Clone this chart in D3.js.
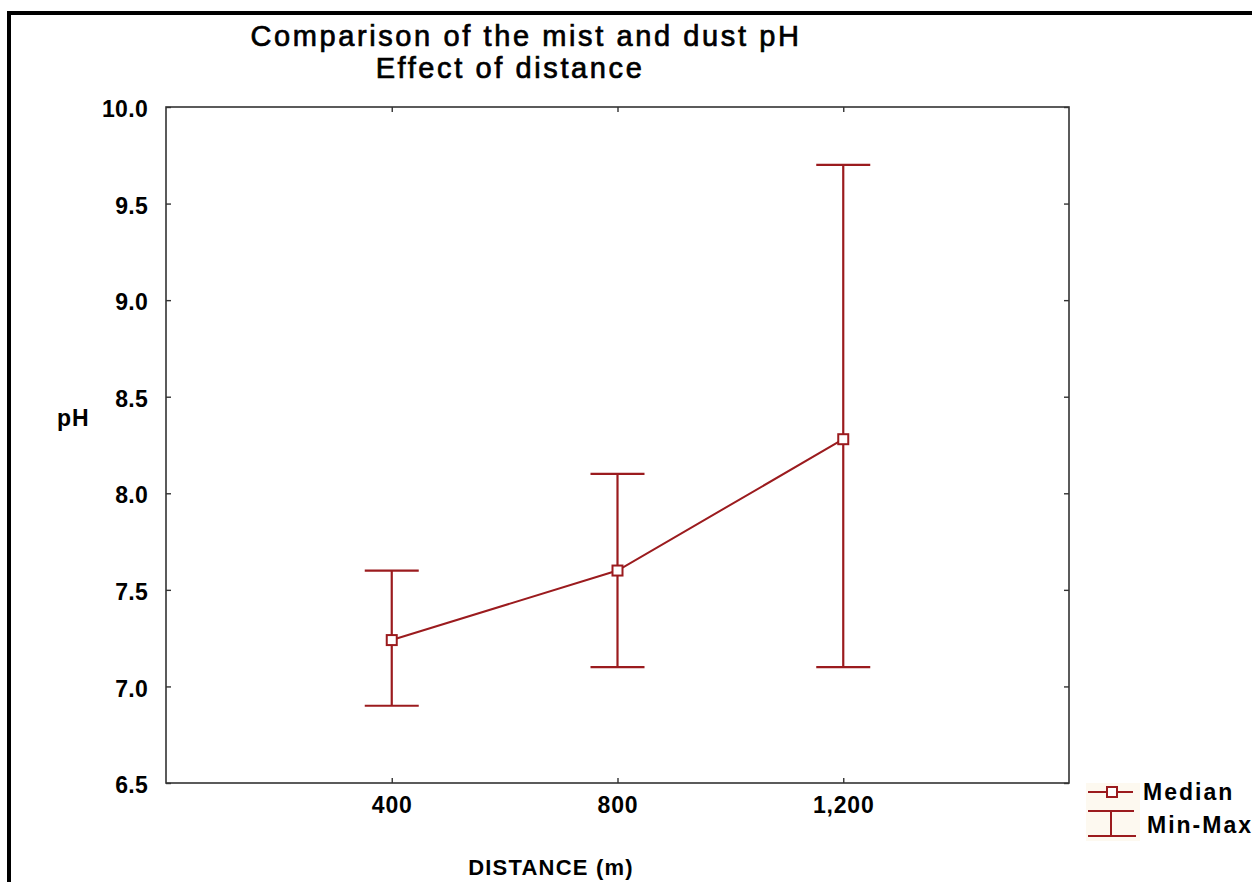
<!DOCTYPE html>
<html>
<head>
<meta charset="utf-8">
<script src="https://cdn.jsdelivr.net/npm/d3@7"></script>
<style>
  html, body { margin: 0; padding: 0; background: #fff; }
  svg { display: block; }
  text { font-family: "Liberation Sans", Arial, sans-serif; fill: #000; }
</style>
</head>
<body>
<svg id="chart" width="1252" height="882"></svg>
<script>
// Distance groups (m) and pH summary per group
const distances = [400, 800, 1200];
const medians   = [7.24, 7.6, 8.28];
const minima    = [6.9, 7.1, 7.1];
const maxima    = [7.6, 8.1, 9.7];

const yTicks = [6.5, 7.0, 7.5, 8.0, 8.5, 9.0, 9.5, 10.0];
const xTicks = [400, 800, 1200];

const titleLines = ["Comparison of the mist and dust pH", "Effect of distance"];
const legendLabels = ["Median", "Min-Max"];

const red = "#9b1b1e";
const svg = d3.select("#chart");

// Outer frame (left and top edges)
svg.append("line").attr("x1", 9).attr("x2", 9).attr("y1", 11).attr("y2", 882)
  .attr("stroke", "#000").attr("stroke-width", 4);
svg.append("line").attr("x1", 7).attr("x2", 1252).attr("y1", 13).attr("y2", 13)
  .attr("stroke", "#000").attr("stroke-width", 4);

const plot = { left: 166, right: 1069, top: 107, bottom: 783 };

const x = d3.scaleLinear().domain([0, 1600]).range([plot.left, plot.right]);
const y = d3.scaleLinear().domain([6.5, 10.0]).range([plot.bottom, plot.top]);

// Plot frame
svg.append("rect")
  .attr("x", plot.left).attr("y", plot.top)
  .attr("width", plot.right - plot.left).attr("height", plot.bottom - plot.top)
  .attr("fill", "none").attr("stroke", "#333").attr("stroke-width", 1.6);

// Inward ticks on all four sides
const tickLen = 5;
const axisStyle = g => {
  g.select(".domain").remove();
  g.selectAll(".tick line").attr("stroke", "#333").attr("stroke-width", 1.4);
};

svg.append("g").attr("transform", `translate(${plot.left},0)`)
  .call(d3.axisLeft(y).tickValues(yTicks).tickSizeInner(-tickLen).tickSizeOuter(0)
    .tickFormat(d3.format(".1f")).tickPadding(18))
  .call(axisStyle)
  .call(g => g.selectAll(".tick text")
    .attr("font-size", 23).attr("font-weight", "bold")
    .attr("font-family", "'Liberation Sans', Arial, sans-serif")
    .attr("letter-spacing", 0.3)
    .attr("fill", "#000").attr("dy", "0.42em"));

svg.append("g").attr("transform", `translate(${plot.right},0)`)
  .call(d3.axisRight(y).tickValues(yTicks).tickSizeInner(-tickLen).tickSizeOuter(0).tickFormat(""))
  .call(axisStyle);

svg.append("g").attr("transform", `translate(0,${plot.bottom})`)
  .call(d3.axisBottom(x).tickValues(xTicks).tickSizeInner(-tickLen).tickSizeOuter(0)
    .tickFormat(d3.format(",")).tickPadding(14))
  .call(axisStyle)
  .call(g => g.selectAll(".tick text")
    .attr("font-size", 23).attr("font-weight", "bold")
    .attr("font-family", "'Liberation Sans', Arial, sans-serif")
    .attr("letter-spacing", 0.8)
    .attr("fill", "#000"));

svg.append("g").attr("transform", `translate(0,${plot.top})`)
  .call(d3.axisTop(x).tickValues(xTicks).tickSizeInner(-tickLen).tickSizeOuter(0).tickFormat(""))
  .call(axisStyle);

// Titles
svg.append("text").attr("x", 526).attr("y", 46).attr("text-anchor", "middle")
  .attr("font-size", 29).attr("letter-spacing", 2.6)
  .attr("stroke", "#000").attr("stroke-width", 0.7)
  .text(titleLines[0]);
svg.append("text").attr("x", 510).attr("y", 78).attr("text-anchor", "middle")
  .attr("font-size", 29).attr("letter-spacing", 2.6)
  .attr("stroke", "#000").attr("stroke-width", 0.7)
  .text(titleLines[1]);

// Axis titles
svg.append("text").attr("x", 551).attr("y", 875).attr("text-anchor", "middle")
  .attr("font-size", 22).attr("font-weight", "bold").attr("letter-spacing", 1.2)
  .text("DISTANCE (m)");
svg.append("text").attr("x", 57).attr("y", 426)
  .attr("font-size", 23).attr("font-weight", "bold").attr("letter-spacing", 1)
  .text("pH");

// Min-Max whiskers
const capHalf = 27;
const rows = distances.map((d, i) => ({ d, med: medians[i], lo: minima[i], hi: maxima[i] }));
const whiskers = svg.append("g").attr("stroke", red).attr("stroke-width", 2.2).attr("fill", "none");
rows.forEach(r => {
  whiskers.append("line").attr("x1", x(r.d)).attr("x2", x(r.d)).attr("y1", y(r.hi)).attr("y2", y(r.lo));
  whiskers.append("line").attr("x1", x(r.d) - capHalf).attr("x2", x(r.d) + capHalf).attr("y1", y(r.hi)).attr("y2", y(r.hi));
  whiskers.append("line").attr("x1", x(r.d) - capHalf).attr("x2", x(r.d) + capHalf).attr("y1", y(r.lo)).attr("y2", y(r.lo));
});

// Median line and markers
svg.append("path").datum(rows)
  .attr("d", d3.line().x(r => x(r.d)).y(r => y(r.med)))
  .attr("fill", "none").attr("stroke", red).attr("stroke-width", 2);

const sq = 10;
svg.append("g").selectAll("rect").data(rows).join("rect")
  .attr("x", r => x(r.d) - sq / 2).attr("y", r => y(r.med) - sq / 2)
  .attr("width", sq).attr("height", sq)
  .attr("fill", "#fff").attr("stroke", red).attr("stroke-width", 2);

// Legend
const lg = svg.append("g");
lg.append("rect").attr("x", 1086).attr("y", 783).attr("width", 54).attr("height", 58).attr("fill", "#fdf9f0");
lg.append("line").attr("x1", 1088).attr("x2", 1133).attr("y1", 792).attr("y2", 792)
  .attr("stroke", red).attr("stroke-width", 2);
lg.append("rect").attr("x", 1107).attr("y", 787).attr("width", 10).attr("height", 10)
  .attr("fill", "#fff").attr("stroke", red).attr("stroke-width", 2);
lg.append("text").attr("x", 1143).attr("y", 800).attr("font-size", 23).attr("font-weight", "bold")
  .attr("letter-spacing", 2).text(legendLabels[0]);

lg.append("line").attr("x1", 1088).attr("x2", 1134).attr("y1", 811).attr("y2", 811)
  .attr("stroke", red).attr("stroke-width", 2);
lg.append("line").attr("x1", 1088).attr("x2", 1136).attr("y1", 836).attr("y2", 836)
  .attr("stroke", red).attr("stroke-width", 2);
lg.append("line").attr("x1", 1111).attr("x2", 1111).attr("y1", 811).attr("y2", 836)
  .attr("stroke", red).attr("stroke-width", 2);
lg.append("text").attr("x", 1147).attr("y", 833).attr("font-size", 23).attr("font-weight", "bold")
  .attr("letter-spacing", 2).text(legendLabels[1]);
</script>
</body>
</html>
